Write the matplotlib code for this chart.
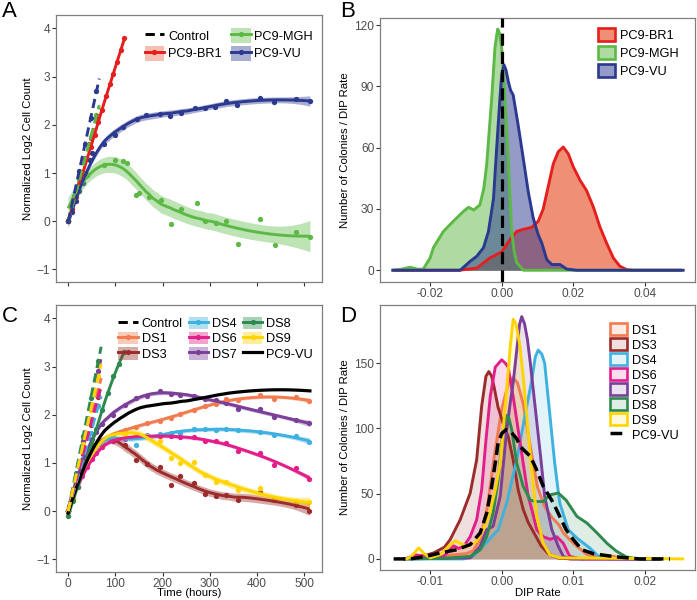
import numpy as np
import matplotlib
matplotlib.use("Agg")
import matplotlib.pyplot as plt
from matplotlib.patches import Patch
from matplotlib.lines import Line2D
from matplotlib.colors import to_rgba

plt.rcParams['font.family'] = ['Liberation Sans', 'DejaVu Sans']

# ------------------------- DATA -------------------------
# Panel A: treated growth curves (time in hours, normalized log2 cell count)
a_br1_t = [0, 8, 16, 24, 32, 40, 48, 56, 64, 72, 80, 88, 96, 104, 112, 119]
a_br1_y = [0.0, 0.25, 0.5, 0.78, 1.0, 1.3, 1.55, 1.8, 2.05, 2.3, 2.6, 2.85, 3.05, 3.3, 3.55, 3.8]
a_mgh_t = [0, 6, 12, 20, 28, 36, 47, 75, 99, 117, 124, 144, 151, 172, 197, 218, 240, 272, 290,
           313, 335, 359, 406, 438, 483, 512]
a_mgh_y = [0.0, 0.3, 0.5, 0.7, 0.9, 1.0, 1.27, 1.17, 1.28, 1.26, 1.21, 0.55, 0.58, 0.51, 0.44,
           -0.05, 0.25, 0.38, 0.01, -0.03, 0.0, -0.48, 0.05, -0.5, -0.22, -0.32]
a_vu_t = [0, 8, 16, 24, 32, 40, 47, 50, 75, 99, 117, 145, 166, 195, 216, 240, 268, 289, 310,
          335, 358, 406, 437, 483, 512]
a_vu_y = [0.0, 0.2, 0.42, 0.62, 0.8, 0.96, 1.27, 1.41, 1.6, 1.79, 1.96, 2.13, 2.2, 2.23, 2.18,
          2.24, 2.36, 2.35, 2.38, 2.5, 2.42, 2.55, 2.48, 2.53, 2.49]
# Panel A: untreated controls
a_ctrl_t = [0, 12, 24, 36, 48, 60]
a_ctrl_br1 = [0.0, 0.42, 0.85, 1.3, 1.72, 2.15]
a_ctrl_mgh = [0.0, 0.42, 0.85, 1.3, 1.75, 2.2]
a_ctrl_vu = [0.0, 0.52, 1.05, 1.6, 2.15, 2.7]

# Panel C: treated sublines
c_t = [0, 10, 20, 30, 40, 50, 60, 72, 96, 120, 144, 168, 194, 217, 238, 266, 290, 313, 335,
       360, 406, 437, 483, 511]
c_ds1 = [0.0, 0.3, 0.6, 0.85, 1.05, 1.2, 1.35, 1.45, 1.55, 1.68, 1.75, 1.82, 1.88, 1.94, 2.02,
         2.1, 2.18, 2.22, 2.32, 2.3, 2.41, 2.32, 2.36, 2.29]
c_ds3 = [0.0, 0.35, 0.65, 0.9, 1.1, 1.25, 1.35, 1.45, 1.48, 1.37, 1.05, 0.98, 0.91, 0.54, 0.72,
         0.58, 0.36, 0.32, 0.33, 0.23, 0.39, 0.22, 0.12, 0.01]
c_ds4 = [0.0, 0.3, 0.6, 0.85, 1.05, 1.2, 1.32, 1.42, 1.5, 1.52, 1.38, 1.57, 1.6, 1.62, 1.63,
         1.7, 1.71, 1.68, 1.7, 1.68, 1.65, 1.58, 1.55, 1.44]
c_ds6 = [0.0, 0.25, 0.5, 0.72, 0.92, 1.08, 1.2, 1.32, 1.45, 1.5, 1.53, 1.55, 1.56, 1.55, 1.54,
         1.53, 1.45, 1.45, 1.42, 1.25, 1.2, 0.96, 0.89, 0.66]
c_ds7 = [0.0, 0.4, 0.75, 1.05, 1.3, 1.5, 1.65, 1.8, 2.0, 2.2, 2.35, 2.38, 2.5, 2.44, 2.42, 2.38,
         2.32, 2.3, 2.25, 2.13, 2.11, 1.95, 1.9, 1.82]
c_ds9 = [0.0, 0.3, 0.6, 0.85, 1.05, 1.22, 1.35, 1.45, 1.55, 1.6, 1.6, 1.55, 1.45, 1.1, 1.0,
         1.02, 0.75, 0.61, 0.6, 0.44, 0.48, 0.25, 0.2, 0.18]
c_ds8_t = [0, 10, 20, 30, 40, 50, 60, 72, 84, 96, 108, 119]
c_ds8 = [-0.1, 0.2, 0.5, 0.8, 1.1, 1.4, 1.7, 2.1, 2.45, 2.8, 3.05, 3.31]
# Panel C: untreated controls
c_ctrl_t = [0, 16, 32, 48, 64]
c_ctrl = {
    'DS1': [0.0, 0.63, 1.26, 1.9, 2.52],
    'DS3': [0.0, 0.59, 1.18, 1.78, 2.37],
    'DS4': [0.0, 0.55, 1.1, 1.63, 2.18],
    'DS6': [0.0, 0.6, 1.2, 1.8, 2.4],
    'DS7': [0.0, 0.73, 1.45, 2.18, 2.9],
    'DS8': [0.0, 0.78, 1.56, 2.34, 3.12],
    'DS9': [0.0, 0.7, 1.4, 2.1, 2.8],
}

# Panel B: DIP-rate densities (number of colonies / DIP rate)
b_br1_x = [-0.030, -0.012, -0.007, -0.0033, 0.0, 0.0023, 0.0042, 0.0060, 0.0084, 0.0102, 0.0116,
           0.0130, 0.0144, 0.0158, 0.0172, 0.0186, 0.0200, 0.0219, 0.0237, 0.0256, 0.0274,
           0.0293, 0.0312, 0.0330, 0.0349, 0.0367, 0.050]
b_br1_y = [0, 0, 1, 6, 9, 15, 19, 20, 21, 24, 30, 41, 52, 58, 60.3, 57, 50.6, 44, 39, 31, 21.4,
           13.3, 6, 2, 0.3, 0, 0]
b_mgh_x = [-0.0304, -0.0280, -0.0256, -0.0235, -0.0219, -0.0200, -0.0191, -0.0163, -0.0135,
           -0.0107, -0.0093, -0.0078, -0.0061, -0.0050, -0.0042, -0.0035, -0.0028, -0.0019,
           -0.0014, -0.0011, -0.0006, 0.0, 0.0005, 0.0009, 0.0014, 0.0019, 0.0028, 0.0035,
           0.0042, 0.0061, 0.050]
b_mgh_y = [0, 0.5, 1.5, 0.5, 0.6, 6, 11, 19, 24, 28.8, 30.8, 29.5, 32, 40, 51.6, 68, 84, 108.6,
           115, 118, 116, 108.6, 96, 84, 68, 51.6, 19, 9, 3.7, 0, 0]
b_vu_x = [-0.0304, -0.0116, -0.0088, -0.0070, -0.0051, -0.0037, -0.0023, -0.0014, -0.0005,
          0.0, 0.00064, 0.0012, 0.0019, 0.0025, 0.0032, 0.0046, 0.0060, 0.0074, 0.0088, 0.0102,
          0.0112, 0.0126, 0.0140, 0.0163, 0.0181, 0.0210, 0.0507]
b_vu_y = [0, 0, 4.4, 6.8, 11, 19, 35, 60, 84, 96, 100.5, 98, 92, 88, 85.8, 71, 55, 38.6, 25.6,
          17.4, 13.3, 5.2, 2.8, 2.8, 0.6, 0, 0]

# Panel D: DIP-rate densities for sublines
d_ds1_x = [-0.0135, -0.0120, -0.0100, -0.0070, -0.0050, -0.0040, -0.0030, -0.0020, -0.0010,
           0.0, 0.0010, 0.0016, 0.0022, 0.0030, 0.0040, 0.0050, 0.0060, 0.0070, 0.0080,
           0.0086, 0.0100, 0.0119, 0.0140, 0.0156, 0.0170, 0.0220]
d_ds1_y = [0, 2.5, 0.5, 3, 4, 6, 15, 40, 80, 115, 136, 139, 135, 119, 86, 55, 40, 32, 26, 20,
           12, 3.3, 1, 2, 0, 0]
d_ds3_x = [-0.0135, -0.0123, -0.0105, -0.0095, -0.0080, -0.0072, -0.0058, -0.0044, -0.0035,
           -0.0028, -0.0022, -0.0018, -0.0014, -0.0010, -0.0005, 0.0002, 0.0009, 0.0016,
           0.0023, 0.0030, 0.0037, 0.0045, 0.0055, 0.0065, 0.0080, 0.0100, 0.0220]
d_ds3_y = [0, 0.8, 3, 4.6, 9, 14.8, 30, 50.5, 76, 117, 140, 143.6, 140, 130, 116, 104, 94, 76,
           53, 38, 28, 20, 10, 4, 0.5, 0, 0]
d_ds4_x = [-0.0135, -0.0053, -0.0040, -0.0026, -0.0014, -0.0005, 0.0007, 0.0021, 0.0035,
           0.0042, 0.0047, 0.0051, 0.0056, 0.0060, 0.0067, 0.0074, 0.0081, 0.0093, 0.0105,
           0.0123, 0.0135, 0.0150, 0.0220]
d_ds4_y = [0, 0, 2, 9.7, 17, 22.4, 43, 76, 117, 137, 155, 160, 157, 150, 112, 73.5, 43, 22.4,
           16, 8.4, 2, 0, 0]
d_ds6_x = [-0.0135, -0.0120, -0.0105, -0.0090, -0.0081, -0.0067, -0.0060, -0.0053, -0.0044,
           -0.0035, -0.0028, -0.0022, -0.0016, -0.0009, 0.0, 0.0005, 0.0009, 0.0016, 0.0023,
           0.0030, 0.0037, 0.0042, 0.0049, 0.0058, 0.0068, 0.0077, 0.0086, 0.0095, 0.0110,
           0.0220]
d_ds6_y = [0, 3, 2, 0.5, 2, 10, 8, 9.7, 17, 30, 53, 91, 124.5, 147, 152.6, 150, 147, 124.5, 99,
           73.5, 48, 38, 22.4, 17, 15, 17, 12, 2, 0, 0]
d_ds7_x = [-0.0135, -0.0044, -0.0030, -0.0021, -0.0012, -0.0002, 0.0007, 0.0012, 0.0016,
           0.0021, 0.0025, 0.0028, 0.0032, 0.0036, 0.0040, 0.0045, 0.0050, 0.0055, 0.0060,
           0.0070, 0.0079, 0.0086, 0.0095, 0.0220]
d_ds7_y = [0, 0.8, 9.7, 22.4, 25, 48, 99, 120, 135, 160, 180, 185.7, 180, 168, 150, 125, 100,
           75, 48, 22.4, 9.7, 2, 0, 0]
d_ds8_x = [-0.0135, -0.0077, -0.0044, -0.0030, -0.0021, -0.0012, -0.0005, 0.0002, 0.0007,
           0.0010, 0.0014, 0.0021, 0.0030, 0.0040, 0.0049, 0.0058, 0.0067, 0.0079, 0.0090,
           0.0105, 0.0119, 0.0133, 0.0147, 0.0160, 0.0174, 0.0190, 0.0220]
d_ds8_y = [0, 0.5, 2, 7, 17, 35, 61, 99, 110, 108, 99, 73.5, 55.6, 45, 44, 44, 49, 50.5, 45,
           32.6, 27.5, 20, 12, 6, 1.5, 0, 0]
d_ds9_x = [-0.0133, -0.0126, -0.0116, -0.0108, -0.0100, -0.0086, -0.0074, -0.0065, -0.0058,
           -0.0047, -0.0035, -0.0026, -0.0016, -0.0009, -0.0002, 0.0002, 0.0007, 0.0012,
           0.0016, 0.0020, 0.0025, 0.0030, 0.0035, 0.0040, 0.0049, 0.0058, 0.0067, 0.0081,
           0.0253]
d_ds9_y = [0, 2, 8.4, 4, 0.8, 3.3, 9.7, 14, 12, 9.7, 13.5, 22.4, 36.5, 53, 73.5, 99, 130, 163,
           183.7, 180, 165, 140, 110, 78, 32.6, 12, 3.3, 0.8, 0]
d_vu_x = [-0.0151, -0.0128, -0.0105, -0.0086, -0.0063, -0.0044, -0.0030, -0.0021, -0.0014,
          -0.0009, -0.0005, 0.0, 0.0006, 0.0012, 0.0021, 0.0026, 0.0040, 0.0049, 0.0058,
          0.0072, 0.0081, 0.0090, 0.0100, 0.0112, 0.0128, 0.0147, 0.0165, 0.0193, 0.0235]
d_vu_y = [0, 0, 2, 4.6, 7, 11, 20, 35, 55.6, 73.5, 89, 96, 99, 98, 92, 86, 78.6, 68, 55.6, 43,
          32.6, 22.4, 14.8, 7, 4, 2.5, 1.3, 0, 0]

# ------------------------- STYLE -------------------------
COL = {
    'PC9-BR1': '#E41F1E', 'PC9-MGH': '#5DB946', 'PC9-VU': '#2B3990',
    'DS1': '#F27B4F', 'DS3': '#9C2B2B', 'DS4': '#3EB1E0', 'DS6': '#E31E8A',
    'DS7': '#7B3F99', 'DS8': '#2D8A4E', 'DS9': '#FFD400',
}
RIB = dict(COL)
RIB['PC9-BR1'] = '#E8603C'
TICKC = '#4D4D4D'
FS = 8.6      # tick labels
TFS = 8.2     # axis titles
LFS = 9.2     # legend text
DASH = (0, (3.2, 1.8))
MS = 3.8


def loess(x, y, xs, span):
    x = np.asarray(x, float)
    y = np.asarray(y, float)
    n = len(x)
    q = max(4, int(np.floor(span * n)))

    def row(x0):
        d = np.abs(x - x0)
        h = np.sort(d)[q - 1] * 1.0001
        u = np.clip(d / h, 0, 1)
        w = (1 - u ** 3) ** 3
        X = np.column_stack([np.ones(n), x - x0, (x - x0) ** 2])
        XtW = X.T * w
        return np.linalg.solve(XtW @ X, XtW)[0]

    L = np.array([row(v) for v in x])
    res = y - L @ y
    M = (np.eye(n) - L).T @ (np.eye(n) - L)
    sigma = np.sqrt(np.sum(res ** 2) / np.trace(M))
    Ls = np.array([row(v) for v in xs])
    fit = Ls @ y
    se = sigma * np.sqrt(np.sum(Ls ** 2, axis=1))
    return fit, 2.1 * se


def growth(ax, t, y, name, span, lw=2.1):
    xs = np.linspace(min(t), max(t), 100)
    fit, band = loess(t, y, xs, span)
    ax.plot(t, y, 'o', color=COL[name], ms=MS, mec='none', zorder=2)
    ax.fill_between(xs, fit - band, fit + band, color=RIB[name], alpha=0.4, lw=0, zorder=3)
    ax.plot(xs, fit, color=COL[name], lw=lw, zorder=4, solid_capstyle='butt')


def control(ax, t, y, color):
    p = np.polyfit(t, y, 1)
    xs = np.array([min(t), max(t) + 6])
    ax.plot(t, y, 'o', color=color, ms=MS, mec='none', zorder=2)
    ax.plot(xs, np.polyval(p, xs), color=color, lw=2.1, ls=DASH, zorder=5)


def style(ax):
    for s in ax.spines.values():
        s.set_color('#7F7F7F')
        s.set_linewidth(0.9)
    ax.tick_params(axis='both', colors='#333333', labelcolor=TICKC, labelsize=FS,
                   length=2.6, width=0.8, pad=1.6)


def ylab(ax, text, xpx, left_px, width_px):
    ax.set_ylabel(text, fontsize=TFS)
    ax.yaxis.label.set_va('center')
    ax.yaxis.set_label_coords((xpx - left_px) / width_px, 0.5)


def xlab(ax, text, ypx, bottom_px, height_px):
    ax.set_xlabel(text, fontsize=TFS)
    ax.xaxis.label.set_va('center')
    ax.xaxis.set_label_coords(0.5, (bottom_px - ypx) / height_px)


def gkey(name, patch=True):
    ln = Line2D([], [], color=COL[name], lw=2.1, marker='o', ms=MS, mec='none')
    if not patch:
        return ln
    return (Patch(facecolor=to_rgba(RIB[name], 0.4), edgecolor='none'), ln)


fig = plt.figure(figsize=(6.97, 6.0), dpi=100)
W, H = 697.0, 600.0


def axes_px(l, t, r, b):
    return fig.add_axes([l / W, 1 - b / H, (r - l) / W, (b - t) / H])


axA = axes_px(56, 15, 322, 282)
axB = axes_px(380, 17.7, 695, 281.7)
axC = axes_px(56, 305, 322, 571.7)
axD = axes_px(380, 305, 695, 570)

# ---- Panel A ----
control(axA, a_ctrl_t, a_ctrl_br1, COL['PC9-BR1'])
control(axA, a_ctrl_t, a_ctrl_mgh, COL['PC9-MGH'])
control(axA, a_ctrl_t, a_ctrl_vu, COL['PC9-VU'])
growth(axA, a_br1_t, a_br1_y, 'PC9-BR1', 0.75)
growth(axA, a_mgh_t, a_mgh_y, 'PC9-MGH', 0.72)
growth(axA, a_vu_t, a_vu_y, 'PC9-VU', 0.55)
axA.set_xlim(-25.6, 537.6)
axA.set_ylim(-1.26, 4.28)
axA.set_xticks([0, 100, 200, 300, 400, 500])
axA.set_xticklabels([])
axA.set_yticks([-1, 0, 1, 2, 3, 4])
ylab(axA, 'Normalized Log2 Cell Count', 28, 56, 266)
style(axA)
ctrl_key = Line2D([], [], color='black', lw=2.1, ls=DASH)
axA.legend([ctrl_key, gkey('PC9-BR1'), gkey('PC9-MGH'), gkey('PC9-VU')],
           ['Control', 'PC9-BR1', 'PC9-MGH', 'PC9-VU'], ncol=2, loc='upper right',
           bbox_to_anchor=(1.0, 0.985), frameon=False, fontsize=LFS, handlelength=1.55,
           handleheight=1.45, handletextpad=0.3, columnspacing=0.7, labelspacing=0.2,
           borderaxespad=0.3)

# ---- Panel B ----
for name, xv, yv in [('PC9-BR1', b_br1_x, b_br1_y), ('PC9-MGH', b_mgh_x, b_mgh_y),
                     ('PC9-VU', b_vu_x, b_vu_y)]:
    fc = RIB[name] if name == 'PC9-BR1' else COL[name]
    al = 0.7 if name == 'PC9-BR1' else 0.5
    axB.fill_between(xv, 0, yv, color=fc, alpha=al, lw=0)
    axB.plot(xv, yv, color=COL[name], lw=2.1, solid_joinstyle='round')
axB.axvline(0, color='black', lw=2.3, ls=(0, (3.8, 1.9)), zorder=6)
axB.set_xlim(-0.034, 0.054)
axB.set_ylim(-5.6, 123.6)
axB.set_xticks([-0.02, 0.0, 0.02, 0.04])
axB.set_xticklabels(['-0.02', '0.00', '0.02', '0.04'])
axB.set_yticks([0, 30, 60, 90, 120])
ylab(axB, 'Number of Colonies / DIP Rate', 345, 380, 315)
style(axB)
bh = []
for name in ['PC9-BR1', 'PC9-MGH', 'PC9-VU']:
    fc = RIB[name] if name == 'PC9-BR1' else COL[name]
    al = 0.7 if name == 'PC9-BR1' else 0.5
    bh.append(Patch(facecolor=to_rgba(fc, al), edgecolor=COL[name], lw=1.9))
axB.legend(bh, ['PC9-BR1', 'PC9-MGH', 'PC9-VU'], loc='upper right', bbox_to_anchor=(0.985, 1.005),
           frameon=False, fontsize=LFS, handlelength=1.3, handleheight=1.25, handletextpad=0.4,
           labelspacing=0.3)

# ---- Panel C ----
for nm in ['DS1', 'DS3', 'DS4', 'DS6', 'DS7', 'DS8', 'DS9']:
    control(axC, c_ctrl_t, c_ctrl[nm], COL[nm])
xs_vu = np.linspace(min(a_vu_t), max(a_vu_t), 100)
fit_vu, _ = loess(a_vu_t, a_vu_y, xs_vu, 0.55)
growth(axC, c_t, c_ds1, 'DS1', 0.5)
growth(axC, c_t, c_ds3, 'DS3', 0.5)
growth(axC, c_t, c_ds4, 'DS4', 0.5)
growth(axC, c_t, c_ds6, 'DS6', 0.5)
growth(axC, c_t, c_ds7, 'DS7', 0.5)
growth(axC, c_ds8_t, c_ds8, 'DS8', 0.75)
growth(axC, c_t, c_ds9, 'DS9', 0.55)
axC.plot(xs_vu, fit_vu, color='black', lw=2.3, zorder=4)
axC.set_xlim(-25.6, 537.6)
axC.set_ylim(-1.26, 4.28)
axC.set_xticks([0, 100, 200, 300, 400, 500])
axC.set_yticks([-1, 0, 1, 2, 3, 4])
ylab(axC, 'Normalized Log2 Cell Count', 28, 56, 266)
xlab(axC, 'Time (hours)', 593.5, 571.7, 266.7)
style(axC)
vu_key = Line2D([], [], color='black', lw=2.3)
axC.legend([ctrl_key, gkey('DS1'), gkey('DS3'), gkey('DS4'), gkey('DS6'), gkey('DS7'),
            gkey('DS8'), gkey('DS9'), vu_key],
           ['Control', 'DS1', 'DS3', 'DS4', 'DS6', 'DS7', 'DS8', 'DS9', 'PC9-VU'], ncol=3,
           loc='upper right', bbox_to_anchor=(1.0, 0.99), frameon=False, fontsize=LFS,
           handlelength=1.55, handleheight=1.15, handletextpad=0.3, columnspacing=0.45,
           labelspacing=0.12, borderaxespad=0.3)

# ---- Panel D ----
d_series = [('DS1', d_ds1_x, d_ds1_y), ('DS3', d_ds3_x, d_ds3_y), ('DS4', d_ds4_x, d_ds4_y),
            ('DS6', d_ds6_x, d_ds6_y), ('DS7', d_ds7_x, d_ds7_y), ('DS8', d_ds8_x, d_ds8_y),
            ('DS9', d_ds9_x, d_ds9_y)]
for name, xv, yv in d_series:
    axD.fill_between(xv, 0, yv, color=COL[name], alpha=0.15, lw=0)
    axD.plot(xv, yv, color=COL[name], lw=2.1, solid_joinstyle='round')
axD.plot(d_vu_x, d_vu_y, color='black', lw=2.5, ls=(0, (3.4, 1.6)), zorder=6)
axD.set_xlim(-0.017, 0.027)
axD.set_ylim(-8.5, 194.6)
axD.set_xticks([-0.01, 0.0, 0.01, 0.02])
axD.set_xticklabels(['-0.01', '0.00', '0.01', '0.02'])
axD.set_yticks([0, 50, 100, 150])
ylab(axD, 'Number of Colonies / DIP Rate', 345, 380, 315)
xlab(axD, 'DIP Rate', 592.5, 570, 265)
style(axD)
dh = [Patch(facecolor=to_rgba(COL[n], 0.15), edgecolor=COL[n], lw=1.9) for n, _, _ in d_series]
dh.append(Line2D([], [], color='black', lw=2.5, ls=(0, (3.4, 1.6))))
axD.legend(dh, [n for n, _, _ in d_series] + ['PC9-VU'], loc='upper right',
           bbox_to_anchor=(0.985, 0.975), frameon=False, fontsize=LFS, handlelength=1.3,
           handleheight=1.1, handletextpad=0.4, labelspacing=0.12)

# Panel letters
for lab, x, y in [('A', 2, 1), ('B', 340, 1), ('C', 2, 306), ('D', 340, 306)]:
    fig.text(x / W, 1 - y / H, lab, fontsize=16, va='top', ha='left')

fig.savefig('out.png', dpi=100)
